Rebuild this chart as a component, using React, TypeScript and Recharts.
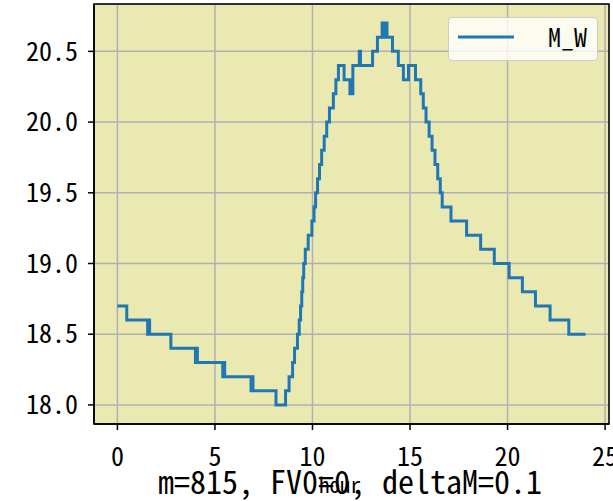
import React from "react";
import {
  LineChart,
  Line,
  XAxis,
  YAxis,
  CartesianGrid,
  ReferenceArea,
} from "recharts";

// hour of each change of M_W (step after) and the value from then on
const hours = [
  0, 0.48, 1.55, 1.6, 1.65, 2.74, 4.0, 4.05, 4.1, 5.4, 5.45, 5.5, 6.85, 6.9,
  6.95, 8.13, 8.62, 8.8, 8.98, 9.08, 9.23, 9.32, 9.39, 9.45, 9.5, 9.55, 9.63,
  9.78, 9.97, 10.08, 10.16, 10.26, 10.36, 10.47, 10.6, 10.73, 10.87, 11.07,
  11.2, 11.33, 11.62, 11.92, 12.07, 12.4, 12.46, 13.08, 13.33, 13.57, 13.68,
  13.72, 13.82, 14.1, 14.4, 14.66, 14.92, 15.28, 15.55, 15.68, 15.82, 15.98,
  16.13, 16.28, 16.42, 16.55, 16.65, 17.1, 17.9, 18.62, 19.32, 20.08, 20.76,
  21.43, 22.18, 23.14, 24.0,
];
const values = [
  18.7, 18.6, 18.5, 18.6, 18.5, 18.4, 18.3, 18.4, 18.3, 18.2, 18.3, 18.2, 18.1,
  18.2, 18.1, 18.0, 18.1, 18.2, 18.3, 18.4, 18.5, 18.6, 18.7, 18.8, 18.9, 19.0,
  19.1, 19.2, 19.3, 19.4, 19.5, 19.6, 19.7, 19.8, 19.9, 20.0, 20.1, 20.2, 20.3,
  20.4, 20.3, 20.2, 20.4, 20.5, 20.4, 20.5, 20.6, 20.7, 20.6, 20.7, 20.6, 20.5,
  20.4, 20.3, 20.4, 20.3, 20.2, 20.1, 20.0, 19.9, 19.8, 19.7, 19.6, 19.5, 19.4,
  19.3, 19.2, 19.1, 19.0, 18.9, 18.8, 18.7, 18.6, 18.5, 18.5,
];

const xTicks = [0, 5, 10, 15, 20, 25];
const yTicks = [18.0, 18.5, 19.0, 19.5, 20.0, 20.5];

const X_DOMAIN: [number, number] = [-1.2, 25.2];
const Y_DOMAIN: [number, number] = [17.865, 20.835];

const FONT =
  '"Noto Sans Mono CJK JP", "Noto Sans CJK JP", "Liberation Mono", monospace';
const BLUE = "#1f77b4";

const data = hours.map((h, i) => ({ h, v: values[i] }));

// legend box like matplotlib's upper-right legend
const LegendBox = () => (
  <div
    style={{
      position: "absolute",
      left: 448,
      top: 17,
      width: 150,
      height: 44,
      boxSizing: "border-box",
      background: "rgba(255,255,255,0.8)",
      border: "1px solid #cccccc",
      borderRadius: 4,
    }}
  >
    <svg width={150} height={44} style={{ position: "absolute", left: -1, top: -1 }}>
      <line x1={10} x2={66} y1={20} y2={20} stroke={BLUE} strokeWidth={3} />
      <text x={100} y={30} fontFamily={FONT} fontSize={26} fill="#000">
        M_W
      </text>
    </svg>
  </div>
);

export default function App() {
  return (
    <div style={{ position: "absolute", left: 0, top: 0, width: 613, height: 501, background: "#fff" }}>
      <LineChart
        width={613}
        height={501}
        data={data}
        margin={{ top: 4, right: 4, left: 0, bottom: 0 }}
      >
        <CartesianGrid
          stroke="#b0b0b0"
          strokeWidth={1.5}
          fill="#ebe9b2"
          fillOpacity={1}
        />
        <XAxis
          dataKey="h"
          type="number"
          domain={X_DOMAIN}
          ticks={xTicks}
          interval={0}
          allowDataOverflow
          height={77}
          tickSize={6}
          tickMargin={18}
          tickLine={{ stroke: "#000", strokeWidth: 1.5 }}
          axisLine={{ stroke: "#000", strokeWidth: 1.5 }}
          tick={{ fontFamily: FONT, fontSize: 26, fill: "#000" }}
        />
        <YAxis
          type="number"
          domain={Y_DOMAIN}
          ticks={yTicks}
          interval={0}
          allowDataOverflow
          width={94}
          tickSize={6}
          tickMargin={10}
          tickFormatter={(v: number) => v.toFixed(1)}
          tickLine={{ stroke: "#000", strokeWidth: 1.5 }}
          axisLine={{ stroke: "#000", strokeWidth: 1.5 }}
          tick={{ fontFamily: FONT, fontSize: 26, fill: "#000" }}
        />
        <Line
          type="stepAfter"
          dataKey="v"
          name="M_W"
          stroke={BLUE}
          strokeWidth={3}
          dot={false}
          isAnimationActive={false}
        />
        <ReferenceArea
          x1={X_DOMAIN[0]}
          x2={X_DOMAIN[1]}
          y1={Y_DOMAIN[0]}
          y2={Y_DOMAIN[1]}
          fill="none"
          stroke="#000"
          strokeWidth={1.5}
        />
        <text x={340} y={493} textAnchor="middle" fontFamily={FONT} fontSize={21} fill="#000">
          hour
        </text>
        <text x={350} y={494} textAnchor="middle" fontFamily={FONT} fontSize={32} fill="#000">
          m=815, FV0=0, deltaM=0.1
        </text>
      </LineChart>
      <LegendBox />
    </div>
  );
}
